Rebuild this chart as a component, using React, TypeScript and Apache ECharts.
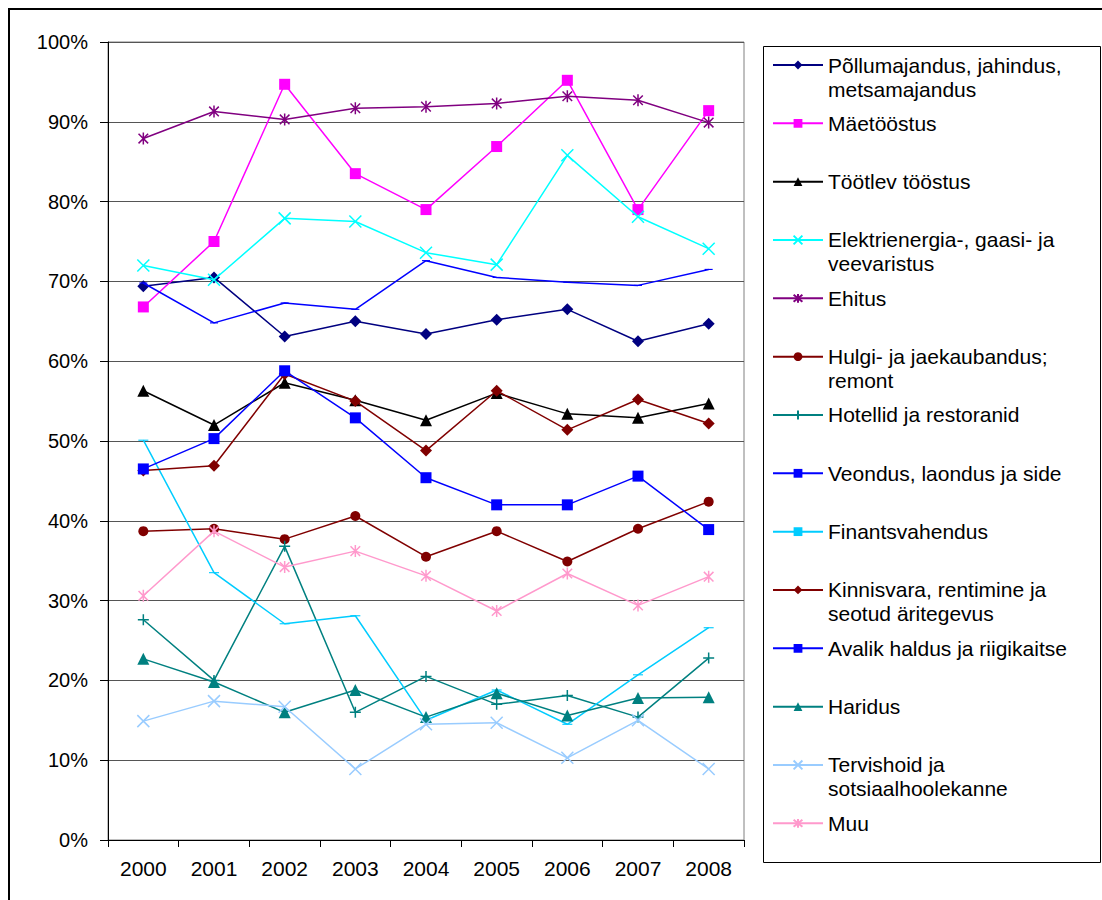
import React, { useEffect, useRef } from "react";
import * as echarts from "echarts";

const years = ["2000", "2001", "2002", "2003", "2004", "2005", "2006", "2007", "2008"];

const agriculture = [69.4, 70.5, 63.1, 65.0, 63.4, 65.2, 66.5, 62.5, 64.7];
const mining = [66.8, 75.0, 94.7, 83.5, 79.0, 86.9, 95.2, 79.0, 91.4];
const manufacturing = [56.3, 52.0, 57.3, 55.1, 52.6, 56.0, 53.4, 52.9, 54.7];
const energy = [72.0, 70.2, 77.9, 77.5, 73.6, 72.1, 85.8, 78.1, 74.1];
const construction = [87.9, 91.3, 90.3, 91.7, 91.9, 92.3, 93.2, 92.7, 89.9];
const trade = [38.7, 39.0, 37.7, 40.6, 35.5, 38.7, 34.9, 39.0, 42.4];
const hotels = [27.6, 20.0, 36.8, 16.0, 20.5, 17.0, 18.1, 15.4, 22.8];
const transport = [69.8, 64.8, 67.3, 66.5, 72.6, 70.5, 69.9, 69.5, 71.5];
const finance = [50.1, 33.5, 27.1, 28.1, 15.0, 18.8, 14.5, 20.7, 26.6];
const realEstate = [46.3, 46.9, 58.4, 55.0, 48.8, 56.3, 51.4, 55.2, 52.2];
const publicAdmin = [46.5, 50.3, 58.8, 52.9, 45.4, 42.0, 42.0, 45.6, 38.9];
const education = [22.7, 19.8, 16.0, 18.8, 15.4, 18.4, 15.6, 17.8, 17.9];
const health = [14.9, 17.4, 16.7, 8.9, 14.5, 14.7, 10.3, 15.0, 8.9];
const other = [30.6, 38.7, 34.2, 36.2, 33.1, 28.7, 33.4, 29.4, 33.0];

const seriesNames = [
  "Põllumajandus, jahindus, metsamajandus",
  "Mäetööstus",
  "Töötlev tööstus",
  "Elektrienergia-, gaasi- ja veevaristus",
  "Ehitus",
  "Hulgi- ja jaekaubandus; remont",
  "Hotellid ja restoranid",
  "Veondus, laondus ja side",
  "Finantsvahendus",
  "Kinnisvara, rentimine ja seotud äritegevus",
  "Avalik haldus ja riigikaitse",
  "Haridus",
  "Tervishoid ja sotsiaalhoolekanne",
  "Muu",
];

const legendLabels = [
  "Põllumajandus, jahindus,\nmetsamajandus",
  "Mäetööstus",
  "Töötlev tööstus",
  "Elektrienergia-, gaasi- ja\nveevaristus",
  "Ehitus",
  "Hulgi- ja jaekaubandus;\nremont",
  "Hotellid ja restoranid",
  "Veondus, laondus ja side",
  "Finantsvahendus",
  "Kinnisvara, rentimine ja\nseotud äritegevus",
  "Avalik haldus ja riigikaitse",
  "Haridus",
  "Tervishoid ja\nsotsiaalhoolekanne",
  "Muu",
];

const seriesData = [
  agriculture, mining, manufacturing, energy, construction, trade, hotels,
  transport, finance, realEstate, publicAdmin, education, health, other,
];

const colors = [
  "#000080", "#FF00FF", "#000000", "#00FFFF", "#800080", "#800000", "#008080",
  "#0000FF", "#00CCFF", "#800000", "#0000FF", "#008080", "#99CCFF", "#FF99CC",
];

const X_SYM = "path://M0,0L10,10M10,0L0,10";
const STAR_SYM = "path://M1,1L9,9M9,1L1,9M5,0L5,10";
const PLUS_SYM = "path://M5,0L5,10M0,5L10,5";
const DASH_SYM = "path://M0,0L8,0L8,3L0,3Z";

const symbols = [
  "diamond", "rect", "triangle", X_SYM, STAR_SYM, "circle", PLUS_SYM,
  DASH_SYM, DASH_SYM, "diamond", "rect", "triangle", X_SYM, STAR_SYM,
];

const symbolSizes: any[] = [
  12, 11, 12, 12, 12, 10, 11, [8, 3], [10, 3], 12, 11, 12, 12, 12,
];

const strokeSymbols = [false, false, false, true, true, false, true, false, false, false, false, false, true, true];

const FONT = "'Liberation Sans', Arial, sans-serif";

export default function App() {
  const ref = useRef<HTMLDivElement>(null);

  useEffect(() => {
    if (!ref.current) return;
    const chart = echarts.init(ref.current, null, { renderer: "svg" });

    const series = seriesNames.map((name, i) => ({
      name,
      type: "line",
      data: seriesData[i],
      symbol: symbols[i],
      symbolSize: symbolSizes[i],
      symbolKeepAspect: true,
      showAllSymbol: true,
      lineStyle: { color: colors[i], width: 1.5 },
      itemStyle: {
        color: colors[i],
        borderColor: colors[i],
        borderWidth: strokeSymbols[i] ? 1.5 : 0,
      },
      emphasis: { disabled: true },
      z: 2 + i * 0.01,
    }));

    const legends = seriesNames.map((name, i) => {
      const twoLine = legendLabels[i].indexOf("\n") >= 0;
      const cy = 65 + 58.33 * i;
      return {
        data: [name],
        orient: "vertical",
        left: 772,
        top: twoLine ? cy - 36 : cy - 12,
        padding: 0,
        itemGap: 0,
        itemWidth: 50,
        itemHeight: 11,
        selectedMode: false,
        formatter: () => (twoLine ? " \n" + legendLabels[i] : legendLabels[i]),
        textStyle: {
          fontFamily: FONT,
          fontSize: 21,
          color: "#000",
          lineHeight: 24,
        },
      };
    });

    chart.setOption({
      animation: false,
      backgroundColor: "#ffffff",
      grid: {
        left: 108,
        top: 42,
        right: 358,
        bottom: 60,
        show: true,
        borderColor: "#808080",
        borderWidth: 1,
        backgroundColor: "transparent",
      },
      xAxis: {
        type: "category",
        data: years,
        boundaryGap: true,
        axisLine: { lineStyle: { color: "#000", width: 1 } },
        axisTick: { show: true, length: 7, lineStyle: { color: "#000" } },
        axisLabel: { fontFamily: FONT, fontSize: 21, color: "#000", margin: 18 },
        splitLine: { show: false },
      },
      yAxis: {
        type: "value",
        min: 0,
        max: 100,
        interval: 10,
        axisLine: { show: true, lineStyle: { color: "#000", width: 1 } },
        axisTick: { show: true, length: 8, lineStyle: { color: "#000" } },
        axisLabel: {
          fontFamily: FONT,
          fontSize: 20,
          color: "#000",
          margin: 20,
          formatter: "{value}%",
        },
        splitLine: { show: true, lineStyle: { color: "#555", width: 1 } },
      },
      legend: legends,
      graphic: [
        {
          type: "rect",
          shape: { x: 9, y: 9, width: 1200, height: 1000 },
          style: { fill: "none", stroke: "#000", lineWidth: 2 },
          silent: true,
          z: 100,
        },
        {
          type: "rect",
          shape: { x: 763.5, y: 46.5, width: 337, height: 816 },
          style: { fill: "none", stroke: "#000", lineWidth: 1 },
          silent: true,
          z: 100,
        },
      ],
      series,
    });

    return () => chart.dispose();
  }, []);

  return (
    <div
      ref={ref}
      style={{ position: "absolute", left: 0, top: 0, width: 1102, height: 900 }}
    />
  );
}
